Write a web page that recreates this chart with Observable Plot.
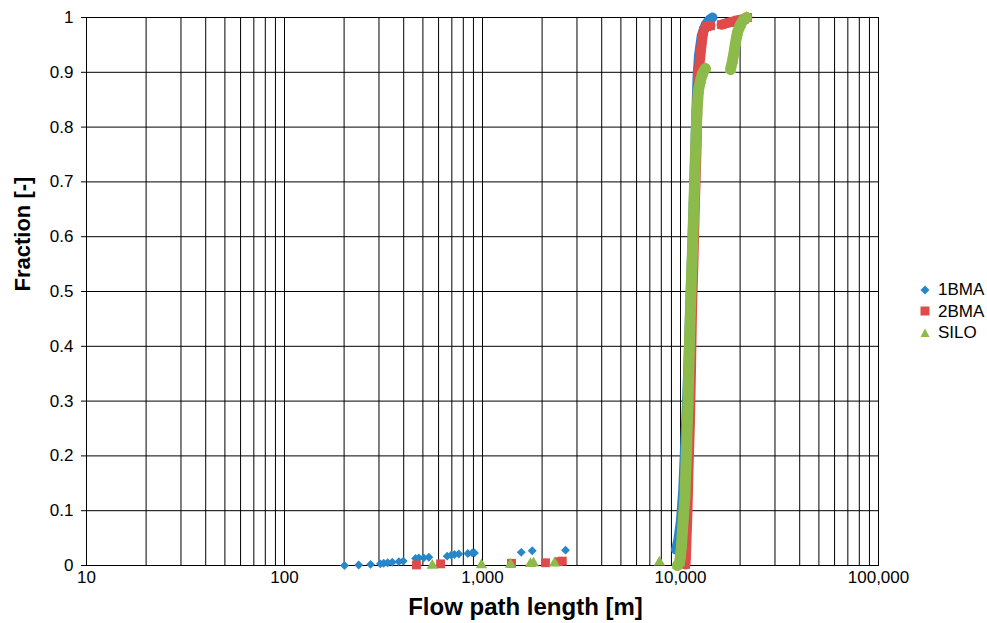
<!DOCTYPE html>
<html>
<head>
<meta charset="utf-8">
<script src="https://cdn.jsdelivr.net/npm/d3@7"></script>
<script src="https://cdn.jsdelivr.net/npm/@observablehq/plot@0.6"></script>
<style>
  html, body { margin: 0; padding: 0; background: #fff; }
  #wrap { position: relative; width: 987px; height: 623px; font-family: "Liberation Sans", Arial, sans-serif; }
  #legend { position: absolute; left: 918px; top: 279px; font-size: 17px; line-height: 21.5px; color: #000; }
  #legend .item { display: flex; align-items: center; white-space: nowrap; }
  #legend svg { width: 14px; height: 14px; margin-right: 6px; }
</style>
</head>
<body>
<div id="wrap"><div id="chart"></div><div id="legend"></div></div>
<script>
// Axis ticks
const xTicks = [10, 100, 1000, 10000, 100000];
const yTicks = [0, 0.1, 0.2, 0.3, 0.4, 0.5, 0.6, 0.7, 0.8, 0.9, 1];

// Series
const seriesNames = ["1BMA", "2BMA", "SILO"];
const seriesColors = ["#2787c9", "#df4b4b", "#8cbb4b"];
const seriesSymbols = ["diamond2", "square", "triangle"];

// 1BMA: short flow paths (scattered) and main cumulative curve
const bma1ScatterLength = [201, 237, 272, 305, 317, 332, 350, 378, 398, 459, 477, 505, 536, 663, 695, 722, 759, 843, 887, 911, 1569, 1783, 2626];
const bma1ScatterFraction = [0, 0.001, 0.002, 0.003, 0.004, 0.005, 0.006, 0.007, 0.008, 0.013, 0.014, 0.014, 0.015, 0.017, 0.019, 0.02, 0.021, 0.022, 0.023, 0.023, 0.024, 0.027, 0.028];
const bma1CurveLength = [9490, 9750, 10050, 10320, 10580, 10840, 11060, 11270, 11500, 11720, 11950, 12080, 12200, 12400, 12800, 13400, 14000, 14500];
const bma1CurveFraction = [0.029, 0.046, 0.082, 0.137, 0.228, 0.319, 0.41, 0.502, 0.593, 0.684, 0.794, 0.849, 0.894, 0.931, 0.967, 0.987, 0.996, 1];

// 2BMA
const bma2ScatterLength = [464, 614, 1401, 2081, 2420, 2530];
const bma2ScatterFraction = [0.001, 0.003, 0.004, 0.005, 0.007, 0.008];
const bma2CurveLength = [10600, 10662, 10723, 10849, 10976, 11169, 11298, 11431, 11632, 11836, 12045, 12185, 12328, 12618, 12840, 13070, 13532, 14171];
const bma2CurveFraction = [0.002, 0.018, 0.046, 0.1, 0.173, 0.265, 0.356, 0.465, 0.557, 0.666, 0.757, 0.849, 0.9, 0.931, 0.958, 0.976, 0.984, 0.985];
const bma2TailLength = [16114, 17680, 19402, 21050, 21795];
const bma2TailFraction = [0.987, 0.991, 0.995, 0.997, 1];

// SILO
const siloScatterLength = [558, 988, 1384, 1746, 1810, 2310, 7830];
const siloScatterFraction = [0, 0.001, 0.002, 0.003, 0.004, 0.004, 0.006];
const siloCurveLength = [9650, 9880, 10000, 10117, 10235, 10356, 10537, 10723, 10912, 11104, 11298, 11497, 11700, 11906, 12115, 12328, 12618, 12915, 13375];
const siloCurveFraction = [0, 0.005, 0.018, 0.036, 0.064, 0.091, 0.128, 0.21, 0.3, 0.41, 0.502, 0.575, 0.666, 0.757, 0.83, 0.867, 0.885, 0.898, 0.907];
const siloTailLength = [17887, 18308, 18632, 18954, 19402, 20091, 20806, 21544];
const siloTailFraction = [0.905, 0.921, 0.936, 0.954, 0.973, 0.987, 0.996, 1];

const rows = (lengths, fractions, run) =>
  lengths.map((length, i) => ({length, fraction: fractions[i], run}));

const bma1Scatter = rows(bma1ScatterLength, bma1ScatterFraction, "a");
const bma1Curve = rows(bma1CurveLength, bma1CurveFraction, "a");
const bma2Scatter = rows(bma2ScatterLength, bma2ScatterFraction, "a");
const bma2Curve = [...rows(bma2CurveLength, bma2CurveFraction, "a"), ...rows(bma2TailLength, bma2TailFraction, "b")];
const siloScatter = rows(siloScatterLength, siloScatterFraction, "a");
const siloCurve = [...rows(siloCurveLength, siloCurveFraction, "a"), ...rows(siloTailLength, siloTailFraction, "b")];

const xGrid = d3.scaleLog().domain([10, 100000]).ticks();

// Densely packed markers along each curve, drawn as a thick band plus the markers
function seriesMarks(scatter, curve, k, r, width) {
  const color = seriesColors[k];
  return [
    Plot.line(curve, {x: "length", y: "fraction", z: "run", stroke: color, strokeWidth: width, strokeLinecap: "round", strokeLinejoin: "round"}),
    Plot.dot(curve, {x: "length", y: "fraction", symbol: () => seriesSymbols[k], fill: color, r}),
    Plot.dot(scatter, {x: "length", y: "fraction", symbol: () => seriesSymbols[k], fill: color, r})
  ];
}

const chart = Plot.plot({
  width: 987,
  height: 623,
  marginLeft: 86,
  marginRight: 109,
  marginTop: 17,
  marginBottom: 58,
  style: {fontFamily: "'Liberation Sans', Arial, sans-serif", fontSize: "17px", color: "#000", background: "#fff", overflow: "visible"},
  x: {type: "log", domain: [10, 100000]},
  y: {domain: [0, 1]},
  symbol: {domain: seriesSymbols, range: seriesSymbols},
  marks: [
    Plot.gridX({ticks: xGrid, stroke: "#000", strokeOpacity: 1, strokeWidth: 1}),
    Plot.gridY({ticks: yTicks, stroke: "#000", strokeOpacity: 1, strokeWidth: 1}),
    Plot.frame({stroke: "#000"}),
    Plot.axisX({ticks: xTicks, tickFormat: d3.format(","), tickSize: 0, tickPadding: 5, fontSize: 17, label: null}),
    Plot.axisY({ticks: yTicks, tickFormat: d => String(d), tickSize: 5, tickPadding: 8, fontSize: 17, label: null}),
    ...seriesMarks(bma1Scatter, bma1Curve, 0, 4, 10),
    ...seriesMarks(bma2Scatter, bma2Curve, 1, 5, 10),
    ...seriesMarks(siloScatter, siloCurve, 2, 4.2, 11),
    Plot.text(["Flow path length [m]"], {frameAnchor: "bottom", dx: 43, dy: 42, fontSize: 24, fontWeight: "bold", lineAnchor: "middle"}),
    Plot.text(["Fraction [-]"], {frameAnchor: "left", dx: -64, rotate: -90, fontSize: 22, fontWeight: "bold", lineAnchor: "middle"})
  ]
});
document.getElementById("chart").appendChild(chart);

// Legend
const symbolPaths = {
  "diamond2": "M7,2.5L11.5,7L7,11.5L2.5,7Z",
  "square": "M2.5,2.5H11.5V11.5H2.5Z",
  "triangle": "M7,2.5L11.5,11L2.5,11Z"
};
const legend = document.getElementById("legend");
seriesNames.forEach((name, k) => {
  const item = document.createElement("div");
  item.className = "item";
  item.innerHTML = `<svg viewBox="0 0 14 14"><path d="${symbolPaths[seriesSymbols[k]]}" fill="${seriesColors[k]}"/></svg><span>${name}</span>`;
  legend.appendChild(item);
});
</script>
</body>
</html>
